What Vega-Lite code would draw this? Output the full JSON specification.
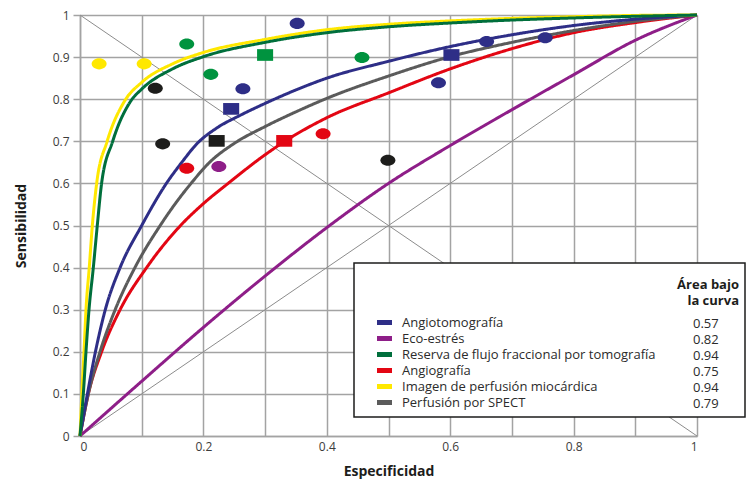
{
  "$schema": "https://vega.github.io/schema/vega-lite/v6.json",
  "autosize": "none",
  "padding": {"left": 80, "top": 15, "right": 52, "bottom": 43},
  "width": 617,
  "height": 421,
  "background": "white",
  "config": {
    "font": "Open Sans",
    "view": {"stroke": null},
    "legend": {"strokeWidth": 1.5},
    "axis": {
      "gridColor": "#a3a3a3",
      "gridWidth": 1.5,
      "domainColor": "#a3a3a3",
      "domainWidth": 1.5,
      "labelFontSize": 12,
      "labelColor": "#3c3c3b",
      "titleFontSize": 14,
      "titleFontWeight": "bold",
      "titleColor": "#1d1d1b"
    }
  },
  "datasets": {
    "diagonales": [
      {"linea": "a", "x": 0, "y": 0}, {"linea": "a", "x": 1, "y": 1},
      {"linea": "b", "x": 0, "y": 1}, {"linea": "b", "x": 1, "y": 0}
    ],
    "auc": [
      {"serie": "Angiotomografía", "etiqueta": "1|Angiotomografía|0.57"},
      {"serie": "Eco-estrés", "etiqueta": "2|Eco-estrés|0.82"},
      {"serie": "Reserva de flujo fraccional por tomografía", "etiqueta": "3|Reserva de flujo fraccional por tomografía|0.94"},
      {"serie": "Angiografía", "etiqueta": "4|Angiografía|0.75"},
      {"serie": "Imagen de perfusión miocárdica", "etiqueta": "5|Imagen de perfusión miocárdica|0.94"},
      {"serie": "Perfusión por SPECT", "etiqueta": "6|Perfusión por SPECT|0.79"}
    ],
    "curvas": [
      {"serie": "Eco-estrés", "x": 0, "y": 0},
      {"serie": "Eco-estrés", "x": 0.1, "y": 0.13},
      {"serie": "Eco-estrés", "x": 0.2, "y": 0.258},
      {"serie": "Eco-estrés", "x": 0.3, "y": 0.38},
      {"serie": "Eco-estrés", "x": 0.4, "y": 0.495},
      {"serie": "Eco-estrés", "x": 0.5, "y": 0.6},
      {"serie": "Eco-estrés", "x": 0.6, "y": 0.69},
      {"serie": "Eco-estrés", "x": 0.7, "y": 0.775},
      {"serie": "Eco-estrés", "x": 0.8, "y": 0.858},
      {"serie": "Eco-estrés", "x": 0.9, "y": 0.94},
      {"serie": "Eco-estrés", "x": 1, "y": 1},

      {"serie": "Angiografía", "x": 0, "y": 0},
      {"serie": "Angiografía", "x": 0.0135, "y": 0.1},
      {"serie": "Angiografía", "x": 0.035, "y": 0.2},
      {"serie": "Angiografía", "x": 0.065, "y": 0.3},
      {"serie": "Angiografía", "x": 0.108, "y": 0.4},
      {"serie": "Angiografía", "x": 0.163, "y": 0.5},
      {"serie": "Angiografía", "x": 0.2, "y": 0.552},
      {"serie": "Angiografía", "x": 0.24, "y": 0.6},
      {"serie": "Angiografía", "x": 0.3, "y": 0.668},
      {"serie": "Angiografía", "x": 0.332, "y": 0.7},
      {"serie": "Angiografía", "x": 0.4, "y": 0.756},
      {"serie": "Angiografía", "x": 0.5, "y": 0.815},
      {"serie": "Angiografía", "x": 0.6, "y": 0.872},
      {"serie": "Angiografía", "x": 0.7, "y": 0.92},
      {"serie": "Angiografía", "x": 0.8, "y": 0.958},
      {"serie": "Angiografía", "x": 0.9, "y": 0.982},
      {"serie": "Angiografía", "x": 1, "y": 1},

      {"serie": "Perfusión por SPECT", "x": 0, "y": 0},
      {"serie": "Perfusión por SPECT", "x": 0.0135, "y": 0.1},
      {"serie": "Perfusión por SPECT", "x": 0.0324, "y": 0.2},
      {"serie": "Perfusión por SPECT", "x": 0.057, "y": 0.3},
      {"serie": "Perfusión por SPECT", "x": 0.089, "y": 0.4},
      {"serie": "Perfusión por SPECT", "x": 0.13, "y": 0.5},
      {"serie": "Perfusión por SPECT", "x": 0.155, "y": 0.553},
      {"serie": "Perfusión por SPECT", "x": 0.18, "y": 0.6},
      {"serie": "Perfusión por SPECT", "x": 0.21, "y": 0.65},
      {"serie": "Perfusión por SPECT", "x": 0.25, "y": 0.695},
      {"serie": "Perfusión por SPECT", "x": 0.3, "y": 0.735},
      {"serie": "Perfusión por SPECT", "x": 0.35, "y": 0.77},
      {"serie": "Perfusión por SPECT", "x": 0.4, "y": 0.802},
      {"serie": "Perfusión por SPECT", "x": 0.5, "y": 0.855},
      {"serie": "Perfusión por SPECT", "x": 0.6, "y": 0.901},
      {"serie": "Perfusión por SPECT", "x": 0.7, "y": 0.935},
      {"serie": "Perfusión por SPECT", "x": 0.8, "y": 0.963},
      {"serie": "Perfusión por SPECT", "x": 0.9, "y": 0.985},
      {"serie": "Perfusión por SPECT", "x": 1, "y": 1},

      {"serie": "Angiotomografía", "x": 0, "y": 0},
      {"serie": "Angiotomografía", "x": 0.012, "y": 0.1},
      {"serie": "Angiotomografía", "x": 0.025, "y": 0.2},
      {"serie": "Angiotomografía", "x": 0.041, "y": 0.3},
      {"serie": "Angiotomografía", "x": 0.065, "y": 0.4},
      {"serie": "Angiotomografía", "x": 0.1, "y": 0.5},
      {"serie": "Angiotomografía", "x": 0.14, "y": 0.6},
      {"serie": "Angiotomografía", "x": 0.165, "y": 0.65},
      {"serie": "Angiotomografía", "x": 0.19, "y": 0.695},
      {"serie": "Angiotomografía", "x": 0.22, "y": 0.73},
      {"serie": "Angiotomografía", "x": 0.26, "y": 0.762},
      {"serie": "Angiotomografía", "x": 0.3, "y": 0.79},
      {"serie": "Angiotomografía", "x": 0.35, "y": 0.822},
      {"serie": "Angiotomografía", "x": 0.4, "y": 0.85},
      {"serie": "Angiotomografía", "x": 0.5, "y": 0.89},
      {"serie": "Angiotomografía", "x": 0.6, "y": 0.925},
      {"serie": "Angiotomografía", "x": 0.7, "y": 0.953},
      {"serie": "Angiotomografía", "x": 0.8, "y": 0.975},
      {"serie": "Angiotomografía", "x": 0.9, "y": 0.99},
      {"serie": "Angiotomografía", "x": 1, "y": 1},

      {"serie": "Imagen de perfusión miocárdica", "x": 0, "y": 0},
      {"serie": "Imagen de perfusión miocárdica", "x": 0.003, "y": 0.1},
      {"serie": "Imagen de perfusión miocárdica", "x": 0.0065, "y": 0.2},
      {"serie": "Imagen de perfusión miocárdica", "x": 0.0097, "y": 0.3},
      {"serie": "Imagen de perfusión miocárdica", "x": 0.015, "y": 0.4},
      {"serie": "Imagen de perfusión miocárdica", "x": 0.02, "y": 0.5},
      {"serie": "Imagen de perfusión miocárdica", "x": 0.027, "y": 0.6},
      {"serie": "Imagen de perfusión miocárdica", "x": 0.044, "y": 0.7},
      {"serie": "Imagen de perfusión miocárdica", "x": 0.072, "y": 0.795},
      {"serie": "Imagen de perfusión miocárdica", "x": 0.1, "y": 0.84},
      {"serie": "Imagen de perfusión miocárdica", "x": 0.15, "y": 0.884},
      {"serie": "Imagen de perfusión miocárdica", "x": 0.2, "y": 0.911},
      {"serie": "Imagen de perfusión miocárdica", "x": 0.3, "y": 0.942},
      {"serie": "Imagen de perfusión miocárdica", "x": 0.4, "y": 0.965},
      {"serie": "Imagen de perfusión miocárdica", "x": 0.5, "y": 0.978},
      {"serie": "Imagen de perfusión miocárdica", "x": 0.6, "y": 0.986},
      {"serie": "Imagen de perfusión miocárdica", "x": 0.7, "y": 0.992},
      {"serie": "Imagen de perfusión miocárdica", "x": 0.8, "y": 0.996},
      {"serie": "Imagen de perfusión miocárdica", "x": 0.9, "y": 0.999},
      {"serie": "Imagen de perfusión miocárdica", "x": 1, "y": 1},

      {"serie": "Reserva de flujo fraccional por tomografía", "x": 0, "y": 0},
      {"serie": "Reserva de flujo fraccional por tomografía", "x": 0.0054, "y": 0.1},
      {"serie": "Reserva de flujo fraccional por tomografía", "x": 0.0097, "y": 0.2},
      {"serie": "Reserva de flujo fraccional por tomografía", "x": 0.0146, "y": 0.3},
      {"serie": "Reserva de flujo fraccional por tomografía", "x": 0.0216, "y": 0.4},
      {"serie": "Reserva de flujo fraccional por tomografía", "x": 0.028, "y": 0.5},
      {"serie": "Reserva de flujo fraccional por tomografía", "x": 0.035, "y": 0.6},
      {"serie": "Reserva de flujo fraccional por tomografía", "x": 0.053, "y": 0.7},
      {"serie": "Reserva de flujo fraccional por tomografía", "x": 0.082, "y": 0.795},
      {"serie": "Reserva de flujo fraccional por tomografía", "x": 0.1, "y": 0.824},
      {"serie": "Reserva de flujo fraccional por tomografía", "x": 0.15, "y": 0.872},
      {"serie": "Reserva de flujo fraccional por tomografía", "x": 0.2, "y": 0.901},
      {"serie": "Reserva de flujo fraccional por tomografía", "x": 0.3, "y": 0.935},
      {"serie": "Reserva de flujo fraccional por tomografía", "x": 0.4, "y": 0.958},
      {"serie": "Reserva de flujo fraccional por tomografía", "x": 0.5, "y": 0.972},
      {"serie": "Reserva de flujo fraccional por tomografía", "x": 0.6, "y": 0.981},
      {"serie": "Reserva de flujo fraccional por tomografía", "x": 0.7, "y": 0.988},
      {"serie": "Reserva de flujo fraccional por tomografía", "x": 0.8, "y": 0.993},
      {"serie": "Reserva de flujo fraccional por tomografía", "x": 0.9, "y": 0.997},
      {"serie": "Reserva de flujo fraccional por tomografía", "x": 1, "y": 1}
    ],
    "puntos": [
      {"serie": "Imagen de perfusión miocárdica", "forma": "círculo", "x": 0.031, "y": 0.884},
      {"serie": "Imagen de perfusión miocárdica", "forma": "círculo", "x": 0.104, "y": 0.884},
      {"serie": "Reserva de flujo fraccional por tomografía", "forma": "círculo", "x": 0.173, "y": 0.931},
      {"serie": "Reserva de flujo fraccional por tomografía", "forma": "círculo", "x": 0.212, "y": 0.859},
      {"serie": "Reserva de flujo fraccional por tomografía", "forma": "círculo", "x": 0.457, "y": 0.899},
      {"serie": "Reserva de flujo fraccional por tomografía", "forma": "cuadrado", "x": 0.3, "y": 0.905},
      {"serie": "Angiotomografía", "forma": "círculo", "x": 0.352, "y": 0.98},
      {"serie": "Angiotomografía", "forma": "círculo", "x": 0.264, "y": 0.825},
      {"serie": "Angiotomografía", "forma": "círculo", "x": 0.581, "y": 0.839},
      {"serie": "Angiotomografía", "forma": "círculo", "x": 0.659, "y": 0.937},
      {"serie": "Angiotomografía", "forma": "círculo", "x": 0.754, "y": 0.946},
      {"serie": "Angiotomografía", "forma": "cuadrado", "x": 0.245, "y": 0.777},
      {"serie": "Angiotomografía", "forma": "cuadrado", "x": 0.602, "y": 0.905},
      {"serie": "Perfusión por SPECT", "forma": "círculo", "x": 0.122, "y": 0.826},
      {"serie": "Perfusión por SPECT", "forma": "círculo", "x": 0.134, "y": 0.694},
      {"serie": "Perfusión por SPECT", "forma": "círculo", "x": 0.499, "y": 0.655},
      {"serie": "Perfusión por SPECT", "forma": "cuadrado", "x": 0.2215, "y": 0.701},
      {"serie": "Angiografía", "forma": "círculo", "x": 0.173, "y": 0.636},
      {"serie": "Angiografía", "forma": "círculo", "x": 0.394, "y": 0.718},
      {"serie": "Angiografía", "forma": "cuadrado", "x": 0.331, "y": 0.701},
      {"serie": "Eco-estrés", "forma": "círculo", "x": 0.225, "y": 0.64}
    ]
  },
  "encoding": {
    "x": {
      "field": "x", "type": "quantitative",
      "scale": {"domain": [0, 1], "nice": false, "zero": false},
      "axis": {
        "title": "Especificidad",
        "values": [0, 0.1, 0.2, 0.3, 0.4, 0.5, 0.6, 0.7, 0.8, 0.9, 1],
        "labelExpr": "round(datum.value * 10) % 2 == 0 ? format(datum.value, '~g') : ''",
        "ticks": false,
        "labelPadding": 5,
        "titlePadding": 12
      }
    },
    "y": {
      "field": "y", "type": "quantitative",
      "scale": {"domain": [0, 1], "nice": false, "zero": false},
      "axis": {
        "title": "Sensibilidad",
        "values": [0, 0.1, 0.2, 0.3, 0.4, 0.5, 0.6, 0.7, 0.8, 0.9, 1],
        "format": "~g",
        "tickSize": 7,
        "tickColor": "#a3a3a3",
        "tickWidth": 1.5,
        "labelPadding": 4,
        "titlePadding": 24
      }
    }
  },
  "layer": [
    {
      "data": {"name": "diagonales"},
      "mark": {"type": "line", "color": "#8c8c8c", "strokeWidth": 1},
      "encoding": {"detail": {"field": "linea", "type": "nominal"}}
    },
    {
      "data": {"name": "curvas"},
      "transform": [
        {"lookup": "serie", "from": {"data": {"name": "auc"}, "key": "serie", "fields": ["etiqueta"]}}
      ],
      "mark": {"type": "line", "strokeWidth": 3, "interpolate": "monotone"},
      "encoding": {
        "stroke": {
          "field": "serie", "type": "nominal",
          "scale": {
            "range": ["#e30613", "#2e2e87", "#8e1e88", "#ffe800", "#5b5b5b", "#006f3c"]
          },
          "legend": null
        },
        "strokeDash": {
          "field": "etiqueta", "type": "nominal",
          "scale": {"range": [[1, 0]]},
          "legend": {
            "orient": "none", "legendX": 274, "legendY": 248,
            "title": ["\u2800", "Área bajo", "la curva"], "titleFontSize": 13, "titleFontWeight": "bold",
            "titleColor": "#1d1d1b", "titleAnchor": "end", "titleAlign": "right", "titleLineHeight": 16,
            "titleBaseline": "middle",
            "titlePadding": 3,
            "padding": 6, "fillColor": "white", "strokeColor": "#1d1d1b",
            "symbolOpacity": 0, "symbolSize": 1, "symbolStrokeWidth": 0,
            "labelOffset": 320, "labelFontSize": 13, "labelColor": "#2b2b2b",
            "labelExpr": "split(datum.label, '|')[2] + '\u2800\u2800'",
            "rowPadding": 2, "zindex": 1
          }
        }
      }
    },
    {
      "data": {"name": "auc"},
      "transform": [{"filter": "false"}],
      "mark": {"type": "square", "filled": true},
      "encoding": {
        "x": {"datum": 0},
        "y": {"datum": 0},
        "color": {
          "field": "serie", "type": "nominal",
          "scale": {
            "domain": ["Angiotomografía", "Eco-estrés", "Reserva de flujo fraccional por tomografía", "Angiografía", "Imagen de perfusión miocárdica", "Perfusión por SPECT"],
            "range": ["#2e2e87", "#8e1e88", "#006f3c", "#e30613", "#ffe800", "#5b5b5b"]
          },
          "legend": {
            "orient": "none", "legendX": 297, "legendY": 300, "title": null,
            "padding": 0, "symbolType": "M-1,-0.33H1V0.33H-1Z", "symbolSize": 225, "symbolStrokeWidth": 0,
            "symbolOpacity": 1,
            "labelOffset": 10, "labelFontSize": 13, "labelColor": "#2b2b2b", "labelLimit": 400,
            "rowPadding": 1, "zindex": 5
          }
        }
      }
    },
    {
      "data": {"name": "puntos"},
      "mark": {"type": "point", "filled": true, "opacity": 1, "size": 225, "strokeWidth": 0},
      "encoding": {
        "fill": {
          "field": "serie", "type": "nominal",
          "scale": {
            "range": ["#e30613", "#2e2e87", "#8e1e88", "#ffe800", "#1d1d1b", "#00933f"]
          },
          "legend": null
        },
        "shape": {
          "field": "forma", "type": "nominal",
          "scale": {
            "domain": ["círculo", "cuadrado"],
            "range": ["M-1,0A1,0.74,0,1,1,1,0A1,0.74,0,1,1,-1,0Z", "M-1.07,-0.78H1.07V0.78H-1.07Z"]
          },
          "legend": null
        }
      }
    }
  ]
}
